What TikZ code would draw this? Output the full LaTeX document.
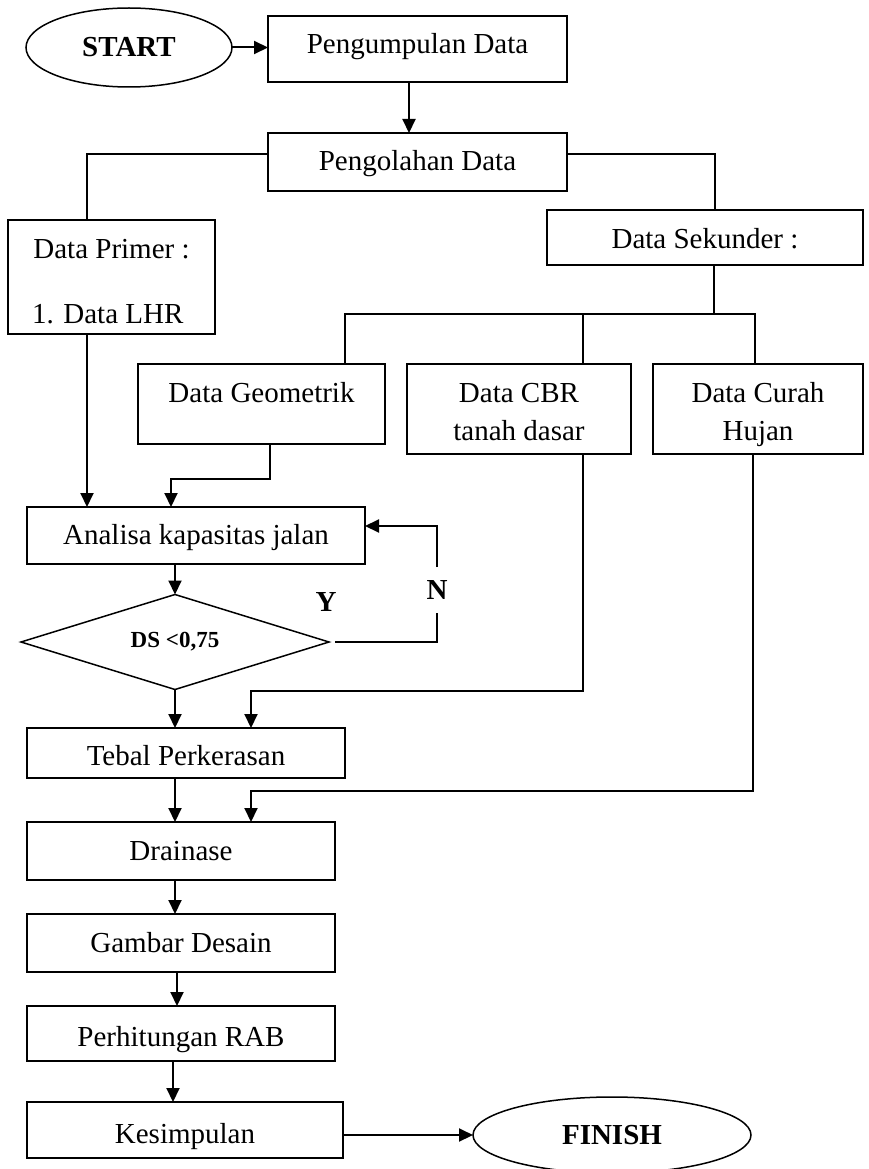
\documentclass[tikz,border=0pt]{standalone}
\usepackage{fontspec}
\setmainfont{Liberation Serif}
\usetikzlibrary{shapes.geometric,arrows.meta,calc}
\begin{document}
\begin{tikzpicture}[x=1pt,y=-1pt,
  box/.style={draw, line width=1.6pt, rectangle, inner sep=0pt, outer sep=0pt, anchor=base, font=\fontsize{29}{35}\selectfont},
  txt/.style={inner sep=0pt, outer sep=0pt, anchor=base, font=\fontsize{29}{35}\selectfont},
  lbl/.style={inner sep=0pt, outer sep=0pt, font=\fontsize{29}{35}\selectfont\bfseries},
  term/.style={draw, ellipse, line width=1.5pt, inner sep=0pt, outer sep=0pt, font=\fontsize{29}{35}\selectfont\bfseries},
  conn/.style={line width=1.5pt},
  arr/.style={line width=2pt, -{Triangle[length=14pt,width=13pt]}},
]
\useasboundingbox (0,0) rectangle (868,1169);

% terminals
\node[term, minimum width=206pt, minimum height=79pt] (start) at (129,47.5) {START};
\node[term, minimum width=278pt, minimum height=76pt] (finish) at (612,1135) {FINISH};

% boxes
\node[box, minimum width=299pt, text height=38pt, text depth=28pt] (p1) at (417.5,54) {Pengumpulan Data};
\node[box, minimum width=299pt, text height=38pt, text depth=20pt] (p2) at (417.5,171) {Pengolahan Data};
\node[box, minimum width=207pt, text height=38pt, text depth=76pt] (primer) at (111.5,258) {Data Primer :};
\node[txt, anchor=base west] (primer2) at (32,323) {1. Data LHR};
\node[box, minimum width=316pt, text height=38pt, text depth=17pt] (sek) at (705,248) {Data Sekunder :};
\node[box, minimum width=247pt, text height=38pt, text depth=42pt] (geo) at (261.5,402) {Data Geometrik};
\node[box, minimum width=224pt, text height=38pt, text depth=52pt] (cbr) at (519,402) {Data CBR};
\node[txt] (cbr2) at (519,440) {tanah dasar};
\node[box, minimum width=210pt, text height=38pt, text depth=52pt] (curah) at (758,402) {Data Curah};
\node[txt] (curah2) at (758,440) {Hujan};
\node[box, minimum width=338pt, text height=37pt, text depth=20pt] (analisa) at (196,544) {Analisa kapasitas jalan};
\node[draw, diamond, aspect=3.2, line width=1.5pt, minimum width=308pt, minimum height=95pt, inner sep=0pt, outer sep=0pt, font=\fontsize{23}{27}\selectfont\bfseries] (dec) at (175,642) {DS <0,75};
\node[lbl] (ylab) at (326,602) {Y};
\node[lbl, minimum height=46pt] (nlab) at (437,590) {N};
\node[box, minimum width=318pt, text height=37pt, text depth=13pt] (tebal) at (186,765) {Tebal Perkerasan};
\node[box, minimum width=308pt, text height=38pt, text depth=20pt] (drain) at (181,860) {Drainase};
\node[box, minimum width=308pt, text height=38pt, text depth=20pt] (gambar) at (181,952) {Gambar Desain};
\node[box, minimum width=308pt, text height=40pt, text depth=15pt] (rab) at (181,1046) {Perhitungan RAB};
\node[box, minimum width=316pt, text height=41pt, text depth=15pt] (kes) at (185,1143) {Kesimpulan};

% connectors
\draw[arr] (start.east) -- (start.east -| p1.west);
\draw[arr] ([xshift=-8.5pt]p1.south) -- ([xshift=-8.5pt]p2.north);
\draw[conn] ([yshift=8pt]p2.west) -| ([xshift=-24.5pt]primer.north);
\draw[conn] ([yshift=8pt]p2.east) -| ([xshift=10pt]sek.north);
\coordinate (bus) at (714,314);
\draw[conn] ([xshift=9pt]sek.south) -- (bus);
\draw[conn] ([xshift=83.5pt]geo.north) |- (bus) -| ([xshift=-3pt]curah.north);
\coordinate (cbrtop) at ([xshift=64pt]cbr.north);
\draw[conn] (cbrtop) -- (cbrtop |- bus);

\coordinate (pb) at ([xshift=-24.5pt]primer.south);
\draw[arr] (pb) -- (pb |- analisa.north);
\coordinate (gb) at ([xshift=8.5pt]geo.south);
\draw[arr] (gb) -- ++(0,35) -| ([xshift=-25pt]analisa.north);

\draw[arr] (dec.north |- analisa.south) -- (dec.north);
\draw[conn] ([xshift=6pt]dec.east) -| (nlab.south);
\coordinate (ae) at ([yshift=9.5pt]analisa.east);
\draw[arr] (nlab.north) |- (ae);

\draw[arr] (dec.south) -- (dec.south |- tebal.north);
\coordinate (cbrb) at ([xshift=64pt]cbr.south);
\coordinate (tin) at ([xshift=65pt]tebal.north);
\draw[arr] (cbrb) |- ([yshift=37pt]tin) -- (tin);

\draw[arr] (dec.south |- tebal.south) -- (dec.south |- drain.north);
\coordinate (cub) at ([xshift=-5pt]curah.south);
\coordinate (din) at ([xshift=70pt]drain.north);
\draw[arr] (cub) |- ([yshift=31pt]din) -- (din);

\draw[arr] (dec.south |- drain.south) -- (dec.south |- gambar.north);
\coordinate (gs) at ([xshift=-4pt]gambar.south);
\draw[arr] (gs) -- (gs |- rab.north);
\coordinate (rs) at ([xshift=-8pt]rab.south);
\draw[arr] (rs) -- (rs |- kes.north);
\coordinate (ke) at ([yshift=-5pt]kes.east);
\draw[arr] (ke) -- (ke -| finish.west);
\end{tikzpicture}
\end{document}
